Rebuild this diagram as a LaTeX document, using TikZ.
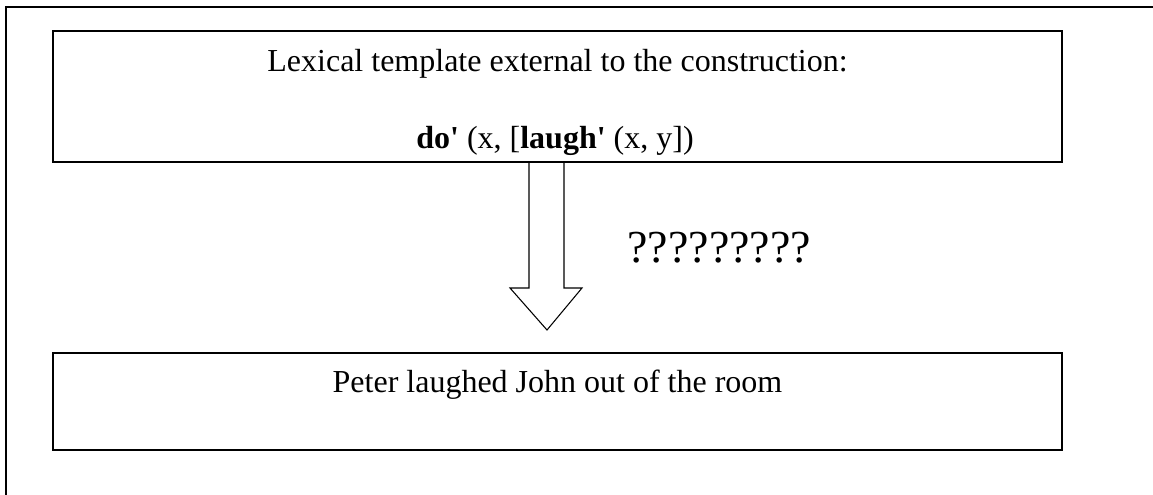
\documentclass[tikz,border=0pt]{standalone}
\usepackage{fontspec}
\setmainfont{Liberation Serif}[Ligatures=TeXOff]
\begin{document}
\begin{tikzpicture}[x=0.375pt,y=-0.375pt,
  boxline/.style={draw=black,line width=0.6pt},
  framebox/.style={boxline,rectangle,inner sep=0pt,minimum width=378.375pt},
  arrowline/.style={draw=black,line width=0.4pt,line join=miter},
  txt/.style={anchor=base,inner sep=0pt,font=\fontsize{12}{14}\selectfont},
  qtxt/.style={anchor=base west,inner sep=0pt,font=\fontsize{17.2}{20}\selectfont}]
\useasboundingbox (0,0) rectangle (1153,495);
% outer frame (only top and left edges visible)
\coordinate (fbl) at (6,495);
\coordinate (ftl) at (6,7);
\coordinate (ftr) at (1153,7);
\draw[boxline] (fbl) -- (ftl) -- (ftr);
% boxes
\node[framebox,minimum height=49.125pt] (top) at (557.5,96.5) {};
\node[framebox,minimum height=36.375pt] (bot) at (557.5,401.5) {};
% texts
\node[txt] (lex) at (557.5,72) {Lexical template external to the construction:};
\node[txt] (form) at (555,149) {\textbf{do'} (x, [\textbf{laugh'} (x, y])};
\node[txt] (peter) at (557.5,393) {Peter laughed John out of the room};
\node[qtxt] (q) at (627,263) {?????????};
% block arrow
\coordinate (a1) at (529,162);
\coordinate (a2) at (529,288);
\coordinate (a3) at (510,288);
\coordinate (tip) at (547,330);
\coordinate (a5) at (582,288);
\coordinate (a6) at (564,288);
\coordinate (a7) at (564,162);
\draw[arrowline] (a1) -- (a2) -- (a3) -- (tip) -- (a5) -- (a6) -- (a7);
\end{tikzpicture}
\end{document}
